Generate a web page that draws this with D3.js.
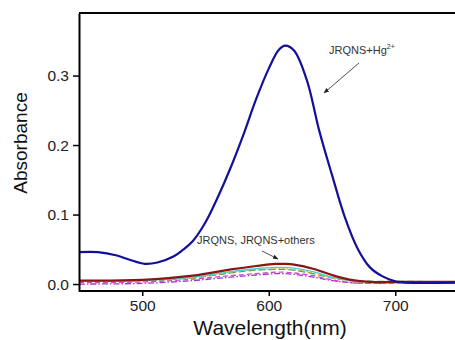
<!DOCTYPE html>
<html>
<head>
<meta charset="utf-8">
<script src="https://cdn.jsdelivr.net/npm/d3@7"></script>
<style>
  body { margin: 0; background: #fff; }
  svg { font-family: Arial, "Liberation Sans", sans-serif; }
</style>
</head>
<body>
<main></main>
<script>
// data
const hgWave = [450, 465, 480, 490, 502, 512, 525, 532, 540, 550, 560, 570, 580, 590, 600, 608, 613, 620, 630, 640, 650, 660, 670, 680, 690, 700, 710, 750, 800];
const hgAbs  = [0.046, 0.046, 0.041, 0.035, 0.029, 0.031, 0.040, 0.049, 0.062, 0.089, 0.126, 0.168, 0.215, 0.266, 0.310, 0.337, 0.343, 0.336, 0.294, 0.220, 0.157, 0.097, 0.052, 0.024, 0.011, 0.004, 0.002, 0.002, 0.002];

const otherWave = [450, 500, 540, 570, 590, 605, 612, 620, 635, 650, 665, 680, 700, 750, 800];
const brownAbs   = [0.005, 0.006, 0.012, 0.021, 0.026, 0.029, 0.029, 0.028, 0.022, 0.013, 0.006, 0.003, 0.003, 0.003, 0.003];
const cyanAbs    = [0.004, 0.005, 0.010, 0.018, 0.022, 0.024, 0.024, 0.023, 0.018, 0.010, 0.005, 0.003, 0.002, 0.002, 0.002];
const orangeAbs  = [0.004, 0.005, 0.009, 0.017, 0.021, 0.022, 0.022, 0.021, 0.016, 0.009, 0.004, 0.002, 0.002, 0.002, 0.002];
const greenAbs   = [0.005, 0.005, 0.009, 0.016, 0.020, 0.021, 0.021, 0.020, 0.015, 0.009, 0.005, 0.004, 0.004, 0.003, 0.003];
const magentaAbs = [0.002, 0.003, 0.007, 0.012, 0.015, 0.017, 0.017, 0.016, 0.012, 0.006, 0.002, 0.001, 0.001, 0.001, 0.001];
const purpleAbs  = [0.000, 0.001, 0.005, 0.010, 0.013, 0.015, 0.015, 0.014, 0.010, 0.005, 0.002, 0.001, 0.001, 0.001, 0.001];

const xTicks = [500, 600, 700];
const yTicks = [0.0, 0.1, 0.2, 0.3];

// svg
const width = 455, height = 340;
const svg = d3.select("main").append("svg")
    .attr("width", width)
    .attr("height", height);

const mLeft = 79, mTop = 13, mBottom = 291;
const x = d3.scaleLinear().domain([450, 800]).range([mLeft, mLeft + 350 * 1.265]);
const y = d3.scaleLinear().domain([-0.01, 0.39]).range([mBottom, mTop]);

const line = d3.line()
    .x(d => x(d[0]))
    .y(d => y(d[1]))
    .curve(d3.curveCatmullRom.alpha(0.5));

// small curves (JRQNS, JRQNS+others)
const others = [
  { vals: purpleAbs,  color: "#9a3ccf", width: 1.3, dash: "6,2,1.5,2" },
  { vals: magentaAbs, color: "#e040c8", width: 1.3, dash: "5,3" },
  { vals: greenAbs,   color: "#4aa04a", width: 1.3, dash: "7,3" },
  { vals: orangeAbs,  color: "#e8b040", width: 1.3, dash: "2,2" },
  { vals: cyanAbs,    color: "#40d0d8", width: 1.3, dash: null },
  { vals: brownAbs,   color: "#8b1414", width: 2.2, dash: null }
];

svg.append("g").selectAll("path")
    .data(others)
    .enter().append("path")
    .attr("d", s => line(otherWave.map((w, i) => [w, s.vals[i]])))
    .attr("fill", "none")
    .attr("stroke", s => s.color)
    .attr("stroke-width", s => s.width)
    .attr("stroke-dasharray", s => s.dash);

// JRQNS+Hg2+
svg.append("path")
    .attr("d", line(hgWave.map((w, i) => [w, hgAbs[i]])))
    .attr("fill", "none")
    .attr("stroke", "#10109a")
    .attr("stroke-width", 2.2);

// axes
svg.append("line")
    .attr("x1", mLeft).attr("x2", width)
    .attr("y1", mTop).attr("y2", mTop)
    .attr("stroke", "#000").attr("stroke-width", 2);

const xAxis = svg.append("g")
    .attr("transform", `translate(0,${mBottom})`)
    .call(d3.axisBottom(x).tickValues(xTicks).tickSize(5).tickSizeOuter(0).tickPadding(4));
const yAxis = svg.append("g")
    .attr("transform", `translate(${mLeft},0)`)
    .call(d3.axisLeft(y).tickValues(yTicks).tickFormat(d3.format(".1f")).tickSize(6).tickSizeOuter(0).tickPadding(4));

[xAxis, yAxis].forEach(a => {
  a.select(".domain").attr("stroke", "#000").attr("stroke-width", 2);
  a.selectAll(".tick line").attr("stroke", "#000").attr("stroke-width", 1.5);
  a.selectAll(".tick text").attr("fill", "#222").style("font-size", "15.5px")
      .style("font-family", "Arial, 'Liberation Sans', sans-serif");
});
xAxis.select(".domain").attr("d", `M${mLeft},0H${width}`);

// axis titles
svg.append("text")
    .attr("x", 270).attr("y", 335)
    .attr("text-anchor", "middle")
    .attr("fill", "#111")
    .style("font-size", "21px")
    .text("Wavelength(nm)");

svg.append("text")
    .attr("transform", "translate(27,143) rotate(-90)")
    .attr("text-anchor", "middle")
    .attr("fill", "#111")
    .style("font-size", "19px")
    .text("Absorbance");

// annotations
const defs = svg.append("defs");
defs.append("marker")
    .attr("id", "arrow")
    .attr("viewBox", "0 0 10 10")
    .attr("refX", 9).attr("refY", 5)
    .attr("markerWidth", 7).attr("markerHeight", 7)
    .attr("orient", "auto")
    .append("path")
    .attr("d", "M0,1L10,5L0,9Z")
    .attr("fill", "#222");

const hgLabel = svg.append("text")
    .attr("x", 329).attr("y", 54)
    .attr("fill", "#333")
    .style("font-size", "11px")
    .text("JRQNS+Hg");
hgLabel.append("tspan")
    .attr("dy", -5)
    .style("font-size", "7px")
    .text("2+");

svg.append("line")
    .attr("x1", 359).attr("y1", 63)
    .attr("x2", 324).attr("y2", 93)
    .attr("stroke", "#222").attr("stroke-width", 0.8)
    .attr("marker-end", "url(#arrow)");

svg.append("text")
    .attr("x", 197).attr("y", 244)
    .attr("fill", "#333")
    .style("font-size", "11px")
    .text("JRQNS, JRQNS+others");

svg.append("line")
    .attr("x1", 262).attr("y1", 251)
    .attr("x2", 278).attr("y2", 259)
    .attr("stroke", "#222").attr("stroke-width", 0.8)
    .attr("marker-end", "url(#arrow)");
</script>
</body>
</html>
